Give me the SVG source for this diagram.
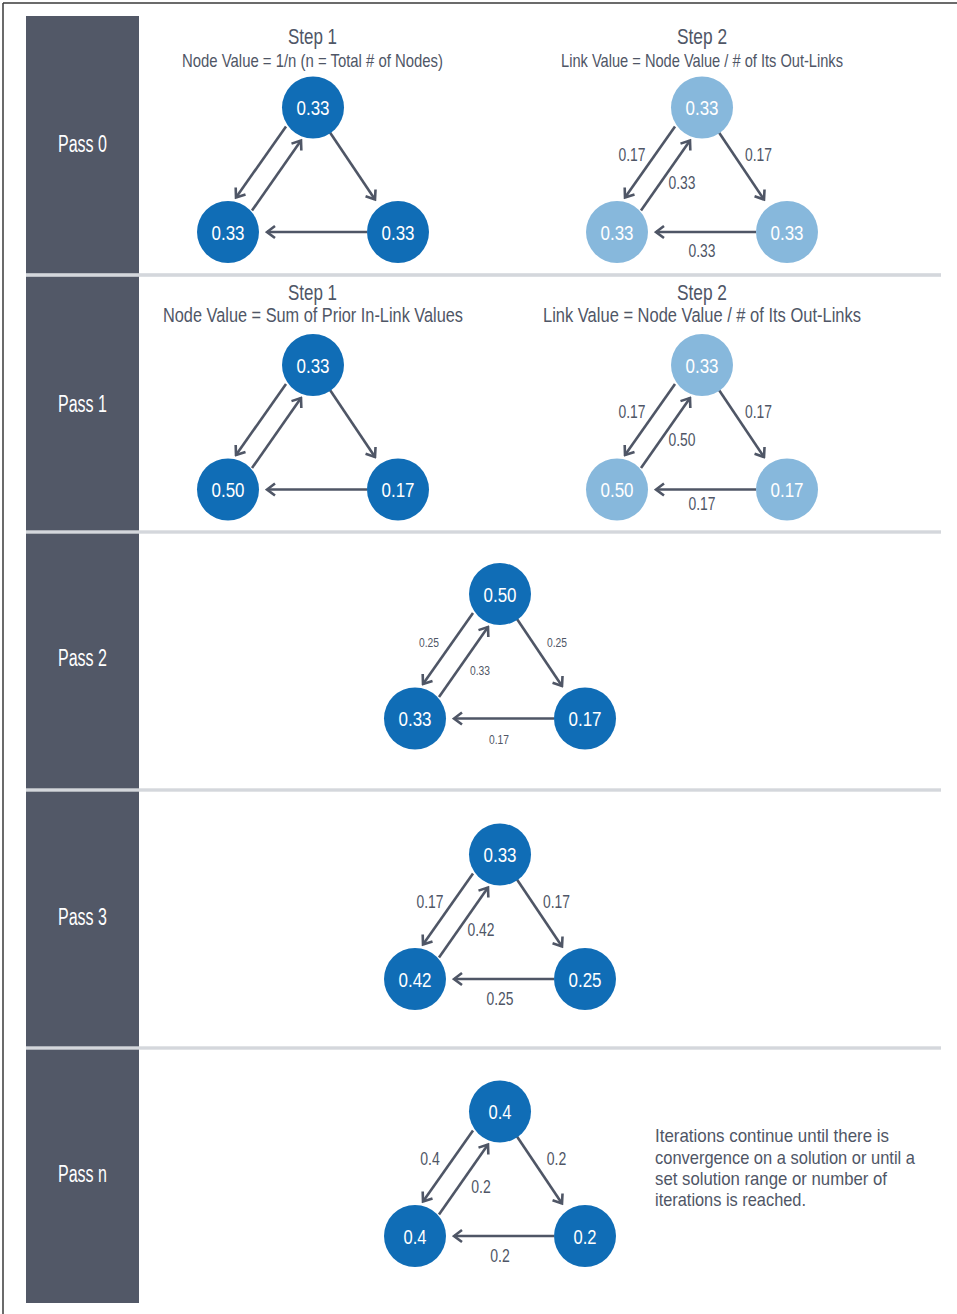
<svg xmlns="http://www.w3.org/2000/svg" width="957" height="1314" viewBox="0 0 957 1314">
<style>
text{font-family:"Liberation Sans Narrow","Liberation Sans",Arial,sans-serif;}
.pass{fill:#ffffff;font-size:23px;text-anchor:middle;}
.step{fill:#4f5666;font-size:22px;text-anchor:middle;}
.step2{fill:#4f5666;font-size:21.5px;text-anchor:middle;}
.sub{fill:#4f5666;font-size:18.5px;text-anchor:middle;}
.sub2{fill:#4f5666;font-size:20.5px;text-anchor:middle;}
.nd circle{fill:#106db6;}
.nl circle{fill:#87b8dc;}
.nd text,.nl text{fill:#ffffff;font-size:20.5px;text-anchor:middle;}
.conn path{fill:none;stroke:#4f5666;stroke-width:2.6;marker-end:url(#arr);}
.el{fill:#4f5666;font-size:18px;text-anchor:middle;}
.els{fill:#4f5666;font-size:12px;text-anchor:middle;}
.para{fill:#4f5666;font-size:19px;}
.sep{fill:#d4d7dc;}
</style>
<defs>
<marker id="arr" markerUnits="userSpaceOnUse" viewBox="-11 -8 13 16" refX="0" refY="0" markerWidth="13" markerHeight="16" orient="auto">
<path d="M-8,-6 L0,0 L-8,6" fill="none" stroke="#4f5666" stroke-width="2.6" stroke-linejoin="miter"/>
</marker>
</defs>
<rect x="0" y="0" width="957" height="1314" fill="#ffffff"/>
<g id="frame">
<line x1="3" y1="3" x2="957" y2="3" stroke="#3a3a3a" stroke-width="1.5"/>
<line x1="3" y1="3" x2="3" y2="1314" stroke="#3a3a3a" stroke-width="1.5"/>
</g>
<g id="columns">
<rect x="26" y="16" width="113" height="1287" fill="#525867"/>
<rect class="sep" x="26" y="273.2" width="915" height="3.6"/>
<rect class="sep" x="26" y="530.3" width="915" height="3.4"/>
<rect class="sep" x="26" y="788.3" width="915" height="3.4"/>
<rect class="sep" x="26" y="1046.3" width="915" height="3.4"/>
</g>
<g id="pass-labels">
<text class="pass" x="82.5" y="151.5" textLength="49" lengthAdjust="spacingAndGlyphs">Pass 0</text>
<text class="pass" x="82.5" y="411.5" textLength="49" lengthAdjust="spacingAndGlyphs">Pass 1</text>
<text class="pass" x="82.5" y="665.5" textLength="49" lengthAdjust="spacingAndGlyphs">Pass 2</text>
<text class="pass" x="82.5" y="924.5" textLength="49" lengthAdjust="spacingAndGlyphs">Pass 3</text>
<text class="pass" x="82.5" y="1181.5" textLength="49" lengthAdjust="spacingAndGlyphs">Pass n</text>
</g>
<g id="headers">
<text class="step" x="312.5" y="43.5" textLength="49" lengthAdjust="spacingAndGlyphs">Step 1</text>
<text class="sub" x="312.5" y="66.5" textLength="261" lengthAdjust="spacingAndGlyphs">Node Value = 1/n (n = Total # of Nodes)</text>
<text class="step" x="702" y="43.5" textLength="50" lengthAdjust="spacingAndGlyphs">Step 2</text>
<text class="sub" x="702" y="66.5" textLength="282" lengthAdjust="spacingAndGlyphs">Link Value = Node Value / # of Its Out-Links</text>
<text class="step2" x="312.5" y="300" textLength="49" lengthAdjust="spacingAndGlyphs">Step 1</text>
<text class="sub2" x="313" y="322" textLength="300" lengthAdjust="spacingAndGlyphs">Node Value = Sum of Prior In-Link Values</text>
<text class="step2" x="702" y="300" textLength="50" lengthAdjust="spacingAndGlyphs">Step 2</text>
<text class="sub2" x="702" y="322" textLength="318" lengthAdjust="spacingAndGlyphs">Link Value = Node Value / # of Its Out-Links</text>
</g>
<g id="connectors" class="conn">
<g transform="translate(313,107.5)"><path d="M-27,19 L-77,90"/><path d="M-61,103 L-12,33"/><path d="M17,25 L62,92"/><path d="M54,124.5 L-46,124.5"/></g>
<g transform="translate(702,107.5)"><path d="M-27,19 L-77,90"/><path d="M-61,103 L-12,33"/><path d="M17,25 L62,92"/><path d="M54,124.5 L-46,124.5"/></g>
<g transform="translate(313,365)"><path d="M-27,19 L-77,90"/><path d="M-61,103 L-12,33"/><path d="M17,25 L62,92"/><path d="M54,124.5 L-46,124.5"/></g>
<g transform="translate(702,365)"><path d="M-27,19 L-77,90"/><path d="M-61,103 L-12,33"/><path d="M17,25 L62,92"/><path d="M54,124.5 L-46,124.5"/></g>
<g transform="translate(500,594)"><path d="M-27,19 L-77,90"/><path d="M-61,103 L-12,33"/><path d="M17,25 L62,92"/><path d="M54,124.5 L-46,124.5"/></g>
<g transform="translate(500,854.5)"><path d="M-27,19 L-77,90"/><path d="M-61,103 L-12,33"/><path d="M17,25 L62,92"/><path d="M54,124.5 L-46,124.5"/></g>
<g transform="translate(500,1111.5)"><path d="M-27,19 L-77,90"/><path d="M-61,103 L-12,33"/><path d="M17,25 L62,92"/><path d="M54,124.5 L-46,124.5"/></g>
</g>
<g id="edge-labels">
<g transform="translate(702,107.5)"><text class="el" x="-70" y="53" textLength="27" lengthAdjust="spacingAndGlyphs">0.17</text><text class="el" x="56.5" y="53" textLength="27" lengthAdjust="spacingAndGlyphs">0.17</text><text class="el" x="-20" y="81" textLength="27" lengthAdjust="spacingAndGlyphs">0.33</text><text class="el" x="0" y="149.5" textLength="27" lengthAdjust="spacingAndGlyphs">0.33</text></g>
<g transform="translate(702,365)"><text class="el" x="-70" y="53" textLength="27" lengthAdjust="spacingAndGlyphs">0.17</text><text class="el" x="56.5" y="53" textLength="27" lengthAdjust="spacingAndGlyphs">0.17</text><text class="el" x="-20" y="81" textLength="27" lengthAdjust="spacingAndGlyphs">0.50</text><text class="el" x="0" y="145" textLength="27" lengthAdjust="spacingAndGlyphs">0.17</text></g>
<g transform="translate(500,594)"><text class="els" x="-71" y="53" textLength="20" lengthAdjust="spacingAndGlyphs">0.25</text><text class="els" x="57" y="53" textLength="20" lengthAdjust="spacingAndGlyphs">0.25</text><text class="els" x="-20" y="81" textLength="20" lengthAdjust="spacingAndGlyphs">0.33</text><text class="els" x="-1" y="150" textLength="20" lengthAdjust="spacingAndGlyphs">0.17</text></g>
<g transform="translate(500,854.5)"><text class="el" x="-70" y="53" textLength="27" lengthAdjust="spacingAndGlyphs">0.17</text><text class="el" x="56.5" y="53" textLength="27" lengthAdjust="spacingAndGlyphs">0.17</text><text class="el" x="-19" y="81" textLength="27" lengthAdjust="spacingAndGlyphs">0.42</text><text class="el" x="0" y="150" textLength="27" lengthAdjust="spacingAndGlyphs">0.25</text></g>
<g transform="translate(500,1111.5)"><text class="el" x="-70" y="53" textLength="19.5" lengthAdjust="spacingAndGlyphs">0.4</text><text class="el" x="56.5" y="53" textLength="19.5" lengthAdjust="spacingAndGlyphs">0.2</text><text class="el" x="-19" y="81" textLength="19.5" lengthAdjust="spacingAndGlyphs">0.2</text><text class="el" x="0" y="150" textLength="19.5" lengthAdjust="spacingAndGlyphs">0.2</text></g>
</g>
<g id="p0s1-top" class="nd"><circle cx="313" cy="107.5" r="31"/><text x="313" y="115" textLength="33" lengthAdjust="spacingAndGlyphs">0.33</text></g>
<g id="p0s1-left" class="nd"><circle cx="228" cy="232" r="31"/><text x="228" y="239.5" textLength="33" lengthAdjust="spacingAndGlyphs">0.33</text></g>
<g id="p0s1-right" class="nd"><circle cx="398" cy="232" r="31"/><text x="398" y="239.5" textLength="33" lengthAdjust="spacingAndGlyphs">0.33</text></g>
<g id="p0s2-top" class="nl"><circle cx="702" cy="107.5" r="31"/><text x="702" y="115" textLength="33" lengthAdjust="spacingAndGlyphs">0.33</text></g>
<g id="p0s2-left" class="nl"><circle cx="617" cy="232" r="31"/><text x="617" y="239.5" textLength="33" lengthAdjust="spacingAndGlyphs">0.33</text></g>
<g id="p0s2-right" class="nl"><circle cx="787" cy="232" r="31"/><text x="787" y="239.5" textLength="33" lengthAdjust="spacingAndGlyphs">0.33</text></g>
<g id="p1s1-top" class="nd"><circle cx="313" cy="365" r="31"/><text x="313" y="372.5" textLength="33" lengthAdjust="spacingAndGlyphs">0.33</text></g>
<g id="p1s1-left" class="nd"><circle cx="228" cy="489.5" r="31"/><text x="228" y="497" textLength="33" lengthAdjust="spacingAndGlyphs">0.50</text></g>
<g id="p1s1-right" class="nd"><circle cx="398" cy="489.5" r="31"/><text x="398" y="497" textLength="33" lengthAdjust="spacingAndGlyphs">0.17</text></g>
<g id="p1s2-top" class="nl"><circle cx="702" cy="365" r="31"/><text x="702" y="372.5" textLength="33" lengthAdjust="spacingAndGlyphs">0.33</text></g>
<g id="p1s2-left" class="nl"><circle cx="617" cy="489.5" r="31"/><text x="617" y="497" textLength="33" lengthAdjust="spacingAndGlyphs">0.50</text></g>
<g id="p1s2-right" class="nl"><circle cx="787" cy="489.5" r="31"/><text x="787" y="497" textLength="33" lengthAdjust="spacingAndGlyphs">0.17</text></g>
<g id="p2-top" class="nd"><circle cx="500" cy="594" r="31"/><text x="500" y="601.5" textLength="33" lengthAdjust="spacingAndGlyphs">0.50</text></g>
<g id="p2-left" class="nd"><circle cx="415" cy="718.5" r="31"/><text x="415" y="726" textLength="33" lengthAdjust="spacingAndGlyphs">0.33</text></g>
<g id="p2-right" class="nd"><circle cx="585" cy="718.5" r="31"/><text x="585" y="726" textLength="33" lengthAdjust="spacingAndGlyphs">0.17</text></g>
<g id="p3-top" class="nd"><circle cx="500" cy="854.5" r="31"/><text x="500" y="862" textLength="33" lengthAdjust="spacingAndGlyphs">0.33</text></g>
<g id="p3-left" class="nd"><circle cx="415" cy="979" r="31"/><text x="415" y="986.5" textLength="33" lengthAdjust="spacingAndGlyphs">0.42</text></g>
<g id="p3-right" class="nd"><circle cx="585" cy="979" r="31"/><text x="585" y="986.5" textLength="33" lengthAdjust="spacingAndGlyphs">0.25</text></g>
<g id="pn-top" class="nd"><circle cx="500" cy="1111.5" r="31"/><text x="500" y="1119" textLength="23" lengthAdjust="spacingAndGlyphs">0.4</text></g>
<g id="pn-left" class="nd"><circle cx="415" cy="1236" r="31"/><text x="415" y="1243.5" textLength="23" lengthAdjust="spacingAndGlyphs">0.4</text></g>
<g id="pn-right" class="nd"><circle cx="585" cy="1236" r="31"/><text x="585" y="1243.5" textLength="23" lengthAdjust="spacingAndGlyphs">0.2</text></g>
<g id="note">
<text class="para" x="655" y="1142" textLength="234" lengthAdjust="spacingAndGlyphs">Iterations continue until there is</text>
<text class="para" x="655" y="1163.5" textLength="260" lengthAdjust="spacingAndGlyphs">convergence on a solution or until a</text>
<text class="para" x="655" y="1185" textLength="232" lengthAdjust="spacingAndGlyphs">set solution range or number of</text>
<text class="para" x="655" y="1206" textLength="151" lengthAdjust="spacingAndGlyphs">iterations is reached.</text>
</g>
</svg>
